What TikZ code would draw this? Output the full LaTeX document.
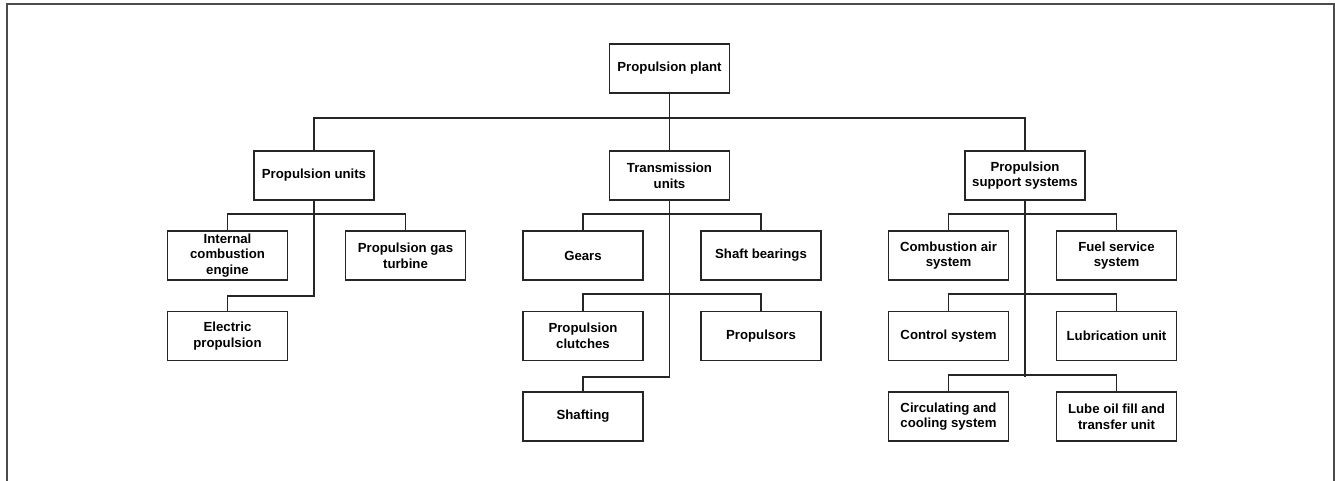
\documentclass[tikz,border=0pt]{standalone}
\usepackage{fontspec}
\setmainfont{Liberation Sans}
\begin{document}
\begin{tikzpicture}[x=1pt,y=-1pt,
  box/.style={draw=black!85, line width=1.7pt, rectangle, minimum width=120pt,
    minimum height=49pt, inner sep=1pt, align=center,
    font=\fontsize{13.2}{15.7}\selectfont\bfseries},
  link/.style={draw=black!85, line width=1.7pt}]
\useasboundingbox (0,0) rectangle (1335,481);
% outer frame, open at the bottom
\draw[black!70, line width=1.8pt] (7,481) -- (7,4) -- (1334,4) -- (1334,481);

% root and first level
\node[box] (plant) at (669.5,68.5) {Propulsion plant};
\node[box] (pu)  at (314,175.5)   {Propulsion units};
\node[box] (tu)  at (669.5,175.5) {Transmission\\units};
\node[box] (pss) at (1025,175.5)  {Propulsion\\support systems};

% propulsion units
\node[box] (ice) at (227.5,255.5) {Internal\\combustion\\engine};
\node[box] (pgt) at (405.5,255.5) {Propulsion gas\\turbine};
\node[box] (el)  at (227.5,336)   {Electric\\propulsion};

% transmission units
\node[box] (gears) at (583,255.5) {Gears};
\node[box] (sb)    at (761,255.5) {Shaft bearings};
\node[box] (pc)    at (583,336)   {Propulsion\\clutches};
\node[box] (props) at (761,336)   {Propulsors};
\node[box] (shaft) at (583,416.5) {Shafting};

% propulsion support systems
\node[box] (ca)  at (948.5,255.5)  {Combustion air\\system};
\node[box] (fs)  at (1116.5,255.5) {Fuel service\\system};
\node[box] (cs)  at (948.5,336)    {Control system};
\node[box] (lu)  at (1116.5,336)   {Lubrication unit};
\node[box] (cc)  at (948.5,416.5)  {Circulating and\\cooling system};
\node[box] (lo)  at (1116.5,416.5) {Lube oil fill and\\transfer unit};

% top-level bus
\coordinate (bus) at (669.5,118);
\draw[link] (plant) -- (tu);
\draw[link] (pu.north) |- (bus) -| (pss.north);

% propulsion units branches
\draw[link] (pu.south) -- ++(0,95) -| (el.north);
\draw[link] (ice.north) -- ++(0,-16) -| (pgt.north);

% transmission units branches
\draw[link] (tu.south) -- ++(0,176) -| (shaft.north);
\draw[link] (gears.north) -- ++(0,-16) -| (sb.north);
\draw[link] (pc.north) -- ++(0,-17) -| (props.north);

% support systems branches
\draw[link] (pss.south) -- ++(0,176);
\draw[link] (ca.north) -- ++(0,-16) -| (fs.north);
\draw[link] (cs.north) -- ++(0,-17) -| (lu.north);
\draw[link] (cc.north) -- ++(0,-16.5) -| (lo.north);
\end{tikzpicture}
\end{document}
